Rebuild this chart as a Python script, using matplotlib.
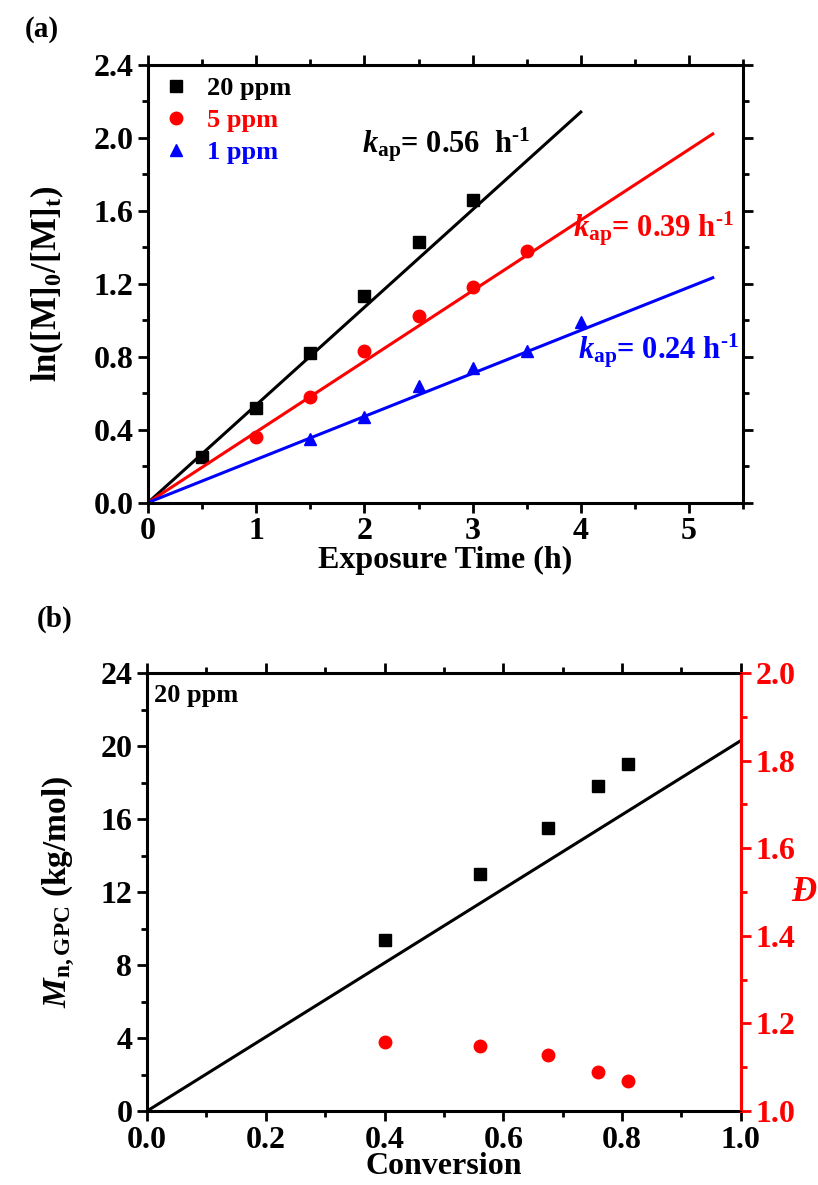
import numpy as np
import matplotlib
matplotlib.use('Agg')
import matplotlib.pyplot as plt
import matplotlib.ticker as mtick

plt.rcParams['font.family'] = ['Liberation Serif', 'DejaVu Serif']
plt.rcParams['font.weight'] = 'bold'
plt.rcParams['axes.labelweight'] = 'bold'
plt.rcParams['mathtext.fontset'] = 'custom'
plt.rcParams['mathtext.rm'] = 'Liberation Serif:bold'
plt.rcParams['mathtext.it'] = 'Liberation Serif:italic:bold'
plt.rcParams['mathtext.bf'] = 'Liberation Serif:bold'

# panel (a): kinetics
t_20 = [0.5, 1.0, 1.5, 2.0, 2.5, 3.0]
ln_20 = [0.25, 0.52, 0.82, 1.13, 1.43, 1.66]
t_5 = [1.0, 1.5, 2.0, 2.5, 3.0, 3.5]
ln_5 = [0.36, 0.58, 0.83, 1.02, 1.18, 1.38]
t_1 = [1.5, 2.0, 2.5, 3.0, 3.5, 4.0]
ln_1 = [0.35, 0.47, 0.64, 0.74, 0.83, 0.99]
fit_slopes = [0.535, 0.387, 0.236]
fit_ends = [4.0, 5.22, 5.22]
k_labels = ['0.56  h', '0.39 h', '0.24 h']

# panel (b): molecular weight vs conversion
conv = [0.40, 0.56, 0.675, 0.76, 0.81]
mn_gpc = [9.4, 13.0, 15.5, 17.8, 19.0]
dispersity = [1.158, 1.148, 1.128, 1.089, 1.069]
mn_theo_slope = 20.3

fig = plt.figure(figsize=(8.18, 11.85), dpi=100)

# ---------- (a) ----------
ax = fig.add_axes([0.181, 0.5759, 0.7274, 0.3696])
colors = ['black', 'red', 'blue']
ax.plot(t_20, ln_20, 's', color='black', ms=8, label='20 ppm')
ax.plot(t_5, ln_5, 'o', color='red', ms=9, label='5 ppm')
ax.plot(t_1, ln_1, '^', color='blue', ms=9, label='1 ppm')
for s, xe, c in zip(fit_slopes, fit_ends, colors):
    xs = np.array([0, xe])
    ax.plot(xs, s * xs, '-', color=c, lw=2.2)

ax.text(1.98, 1.92, r'$k$$_{\mathrm{ap}}$= ' + k_labels[0] + '$^{\mathrm{\u2010}1}$', color='black', fontsize=22)
ax.text(3.93, 1.46, r'$k$$_{\mathrm{ap}}$= ' + k_labels[1] + '$^{\mathrm{\u2010}1}$', color='red', fontsize=22)
ax.text(3.97, 0.79, r'$k$$_{\mathrm{ap}}$= ' + k_labels[2] + '$^{\mathrm{\u2010}1}$', color='blue', fontsize=22)

ax.set_xlim(0, 5.5)
ax.set_ylim(0, 2.4)
ax.xaxis.set_major_locator(mtick.MultipleLocator(1))
ax.xaxis.set_minor_locator(mtick.MultipleLocator(0.5))
ax.yaxis.set_major_locator(mtick.MultipleLocator(0.4))
ax.yaxis.set_minor_locator(mtick.MultipleLocator(0.2))
ax.yaxis.set_major_formatter(mtick.FormatStrFormatter('%.1f'))
ax.tick_params(which='both', direction='out', width=2, labelsize=23, top=True, right=True)
ax.tick_params(which='major', length=7)
ax.tick_params(which='minor', length=4)
for sp in ax.spines.values():
    sp.set_linewidth(2.2)
ax.set_xlabel('Exposure Time (h)', fontsize=23, labelpad=0)
ax.set_ylabel(r'ln([M]$_{\mathrm{0}}$/[M]$_{\mathrm{t}}$)', fontsize=25, labelpad=20)

leg = ax.legend(loc='upper left', fontsize=19, frameon=False, handletextpad=0.6,
                borderaxespad=0.05, labelspacing=0.32, handlelength=1.2)
for txt, c in zip(leg.get_texts(), colors):
    txt.set_color(c)

fig.text(0.03, 0.975, '(a)', fontsize=21, va='center')

# ---------- (b) ----------
bx = fig.add_axes([0.1797, 0.0624, 0.726, 0.3696])
bx.plot(conv, mn_gpc, 's', color='black', ms=8)
xs = np.array([0, 1.0])
bx.plot(xs, mn_theo_slope * xs, '-', color='black', lw=2.2)
bx.set_xlim(0, 1.0)
bx.set_ylim(0, 24)
bx.xaxis.set_major_locator(mtick.MultipleLocator(0.2))
bx.xaxis.set_minor_locator(mtick.MultipleLocator(0.1))
bx.yaxis.set_major_locator(mtick.MultipleLocator(4))
bx.yaxis.set_minor_locator(mtick.MultipleLocator(2))
bx.xaxis.set_major_formatter(mtick.FormatStrFormatter('%.1f'))
bx.tick_params(which='both', direction='out', width=2, labelsize=23, top=True)
bx.tick_params(which='major', length=7)
bx.tick_params(which='minor', length=4)
for sp in bx.spines.values():
    sp.set_linewidth(2.2)
bx.set_xlabel('Conversion', fontsize=23, labelpad=-2)
bx.set_ylabel(r'$M$$_{\mathrm{n,GPC}}$ (kg/mol)', fontsize=24, labelpad=17)
bx.text(0.012, 0.975, '20 ppm', transform=bx.transAxes, fontsize=19, va='top')

rx = bx.twinx()
rx.plot(conv, dispersity, 'o', color='red', ms=9)
rx.set_ylim(1.0, 2.0)
rx.yaxis.set_major_locator(mtick.MultipleLocator(0.2))
rx.yaxis.set_minor_locator(mtick.MultipleLocator(0.1))
rx.yaxis.set_major_formatter(mtick.FormatStrFormatter('%.1f'))
rx.tick_params(which='both', direction='out', width=2, labelsize=23, colors='red')
rx.tick_params(which='major', length=7)
rx.tick_params(which='minor', length=4)
rx.spines['right'].set_color('red')
rx.spines['right'].set_linewidth(2.2)
rx.set_ylabel('Đ', fontsize=25, color='red', fontstyle='italic', rotation=0, va='center', labelpad=6)

fig.text(0.045, 0.477, '(b)', fontsize=21, va='center')

fig.savefig('out.png', dpi=100)
